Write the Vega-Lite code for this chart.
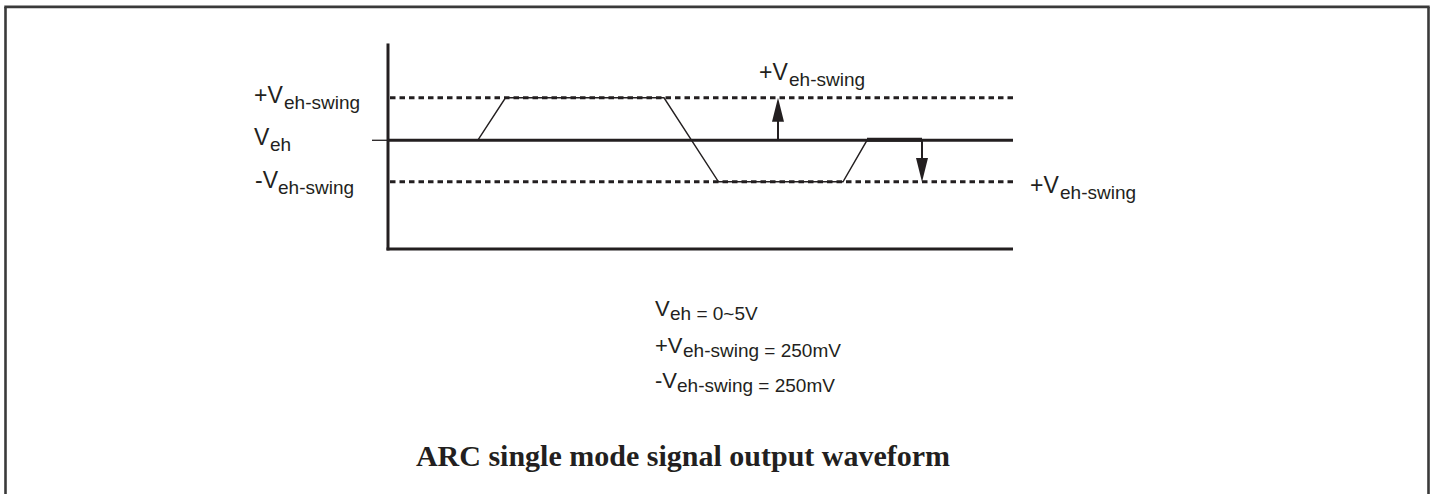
{
  "$schema": "https://vega.github.io/schema/vega-lite/v6.json",
  "width": 1432,
  "height": 496,
  "padding": 0,
  "autosize": {"type": "fit", "contains": "padding"},
  "background": "white",
  "config": {"view": {"stroke": null}},
  "datasets": {
    "segments": [
      {"kind": "frame", "x": 5.5, "y": 7, "x2": 5.5, "y2": 500},
      {"kind": "frame", "x": 4.3, "y": 7, "x2": 1429.7, "y2": 7},
      {"kind": "frame", "x": 1428.5, "y": 7, "x2": 1428.5, "y2": 500},
      {"kind": "axis", "x": 388, "y": 44, "x2": 388, "y2": 253.5},
      {"kind": "axis", "x": 386.5, "y": 252, "x2": 1013, "y2": 252},
      {"kind": "axis", "x": 388, "y": 142, "x2": 1013, "y2": 142},
      {"kind": "tick", "x": 372, "y": 142, "x2": 388, "y2": 142},
      {"kind": "dash", "x": 390, "y": 99, "x2": 1013, "y2": 99},
      {"kind": "dash", "x": 390, "y": 184, "x2": 1013, "y2": 184},
      {"kind": "thick", "x": 867, "y": 141.5, "x2": 922, "y2": 141.5},
      {"kind": "shaft", "x": 778, "y": 142, "x2": 778, "y2": 121},
      {"kind": "shaft", "x": 922, "y": 142, "x2": 922, "y2": 162}
    ],
    "wave": [
      {"step": 1, "x": 477.7, "y": 142},
      {"step": 2, "x": 505.5, "y": 99},
      {"step": 3, "x": 664, "y": 99},
      {"step": 4, "x": 718.5, "y": 184},
      {"step": 5, "x": 843, "y": 184},
      {"step": 6, "x": 867, "y": 142},
      {"step": 7, "x": 922, "y": 142}
    ],
    "heads": [
      {"dir": "up", "x": 778, "y": 111},
      {"dir": "down", "x": 922, "y": 172}
    ],
    "labels": [
      {"role": "main", "text": "+V", "x": 254, "y": 104},
      {"role": "sub", "text": "eh-swing", "x": 284, "y": 110},
      {"role": "main", "text": "V", "x": 254, "y": 147},
      {"role": "sub", "text": "eh", "x": 270, "y": 153},
      {"role": "main", "text": "-V", "x": 255, "y": 190},
      {"role": "sub", "text": "eh-swing", "x": 278, "y": 196},
      {"role": "main", "text": "+V", "x": 759, "y": 81},
      {"role": "sub", "text": "eh-swing", "x": 789, "y": 87},
      {"role": "main", "text": "+V", "x": 1030, "y": 195},
      {"role": "sub", "text": "eh-swing", "x": 1060, "y": 201},
      {"role": "note", "text": "V", "x": 655, "y": 320},
      {"role": "notesub", "text": "eh = 0~5V", "x": 670, "y": 324},
      {"role": "note", "text": "+V", "x": 655, "y": 357},
      {"role": "notesub", "text": "eh-swing = 250mV", "x": 683, "y": 361},
      {"role": "note", "text": "-V", "x": 655, "y": 393},
      {"role": "notesub", "text": "eh-swing = 250mV", "x": 677, "y": 397},
      {"role": "title", "text": "ARC single mode signal output waveform", "x": 683, "y": 472}
    ]
  },
  "encoding": {
    "x": {"field": "x", "type": "quantitative", "scale": {"domain": [0, 1432], "nice": false, "zero": false}, "axis": null},
    "y": {"field": "y", "type": "quantitative", "scale": {"domain": [0, 496], "nice": false, "zero": false, "reverse": true}, "axis": null}
  },
  "layer": [
    {
      "data": {"name": "segments"},
      "transform": [{"filter": "datum.kind === 'frame'"}],
      "mark": {"type": "rule", "stroke": "#3a3a3a", "strokeWidth": 2.6},
      "encoding": {"x2": {"field": "x2"}, "y2": {"field": "y2"}}
    },
    {
      "data": {"name": "segments"},
      "transform": [{"filter": "datum.kind === 'axis'"}],
      "mark": {"type": "rule", "stroke": "#231f20", "strokeWidth": 3},
      "encoding": {"x2": {"field": "x2"}, "y2": {"field": "y2"}}
    },
    {
      "data": {"name": "segments"},
      "transform": [{"filter": "datum.kind === 'tick'"}],
      "mark": {"type": "rule", "stroke": "#231f20", "strokeWidth": 1.3},
      "encoding": {"x2": {"field": "x2"}, "y2": {"field": "y2"}}
    },
    {
      "data": {"name": "segments"},
      "transform": [{"filter": "datum.kind === 'dash'"}],
      "mark": {"type": "rule", "stroke": "#231f20", "strokeWidth": 3, "strokeDash": [5.5, 4]},
      "encoding": {"x2": {"field": "x2"}, "y2": {"field": "y2"}}
    },
    {
      "data": {"name": "segments"},
      "transform": [{"filter": "datum.kind === 'thick'"}],
      "mark": {"type": "rule", "stroke": "#231f20", "strokeWidth": 4},
      "encoding": {"x2": {"field": "x2"}, "y2": {"field": "y2"}}
    },
    {
      "data": {"name": "segments"},
      "transform": [{"filter": "datum.kind === 'shaft'"}],
      "mark": {"type": "rule", "stroke": "#231f20", "strokeWidth": 2},
      "encoding": {"x2": {"field": "x2"}, "y2": {"field": "y2"}}
    },
    {
      "data": {"name": "wave"},
      "mark": {"type": "line", "stroke": "#231f20", "strokeWidth": 1.4, "strokeJoin": "miter"},
      "encoding": {"order": {"field": "step", "type": "quantitative"}}
    },
    {
      "data": {"name": "heads"},
      "transform": [{"filter": "datum.dir === 'up'"}],
      "mark": {"type": "point", "filled": true, "fill": "#231f20", "stroke": null, "opacity": 1, "size": 576, "shape": "M-0.5,1L0,-1L0.5,1Z"}
    },
    {
      "data": {"name": "heads"},
      "transform": [{"filter": "datum.dir === 'down'"}],
      "mark": {"type": "point", "filled": true, "fill": "#231f20", "stroke": null, "opacity": 1, "size": 576, "shape": "M-0.5,-1L0,1L0.5,-1Z"}
    },
    {
      "data": {"name": "labels"},
      "transform": [{"filter": "datum.role === 'main'"}],
      "mark": {"type": "text", "font": "Liberation Sans", "fontSize": 23, "align": "left", "baseline": "alphabetic", "fill": "#231f20"},
      "encoding": {"text": {"field": "text"}}
    },
    {
      "data": {"name": "labels"},
      "transform": [{"filter": "datum.role === 'sub'"}],
      "mark": {"type": "text", "font": "Liberation Sans", "fontSize": 19, "align": "left", "baseline": "alphabetic", "fill": "#231f20"},
      "encoding": {"text": {"field": "text"}}
    },
    {
      "data": {"name": "labels"},
      "transform": [{"filter": "datum.role === 'note'"}],
      "mark": {"type": "text", "font": "Liberation Sans", "fontSize": 22, "align": "left", "baseline": "alphabetic", "fill": "#231f20"},
      "encoding": {"text": {"field": "text"}}
    },
    {
      "data": {"name": "labels"},
      "transform": [{"filter": "datum.role === 'notesub'"}],
      "mark": {"type": "text", "font": "Liberation Sans", "fontSize": 19, "align": "left", "baseline": "alphabetic", "fill": "#231f20"},
      "encoding": {"text": {"field": "text"}}
    },
    {
      "data": {"name": "labels"},
      "transform": [{"filter": "datum.role === 'title'"}],
      "mark": {"type": "text", "font": "Liberation Serif", "fontSize": 30, "fontWeight": "bold", "align": "center", "baseline": "alphabetic", "fill": "#231f20"},
      "encoding": {"text": {"field": "text"}}
    }
  ]
}
